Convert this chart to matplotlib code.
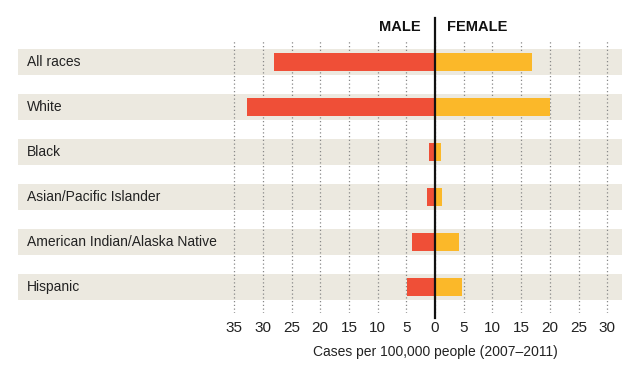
import matplotlib
matplotlib.use("Agg")
import matplotlib.pyplot as plt
from matplotlib.lines import Line2D
import matplotlib.transforms as mtransforms

categories = ["All races", "White", "Black", "Asian/Pacific Islander",
              "American Indian/Alaska Native", "Hispanic"]
male = [28.0, 32.7, 1.0, 1.4, 4.0, 4.8]
female = [16.9, 20.0, 1.0, 1.2, 4.2, 4.7]
tick_values = [-35, -30, -25, -20, -15, -10, -5, 0, 5, 10, 15, 20, 25, 30]
tick_labels = [str(abs(v)) for v in tick_values]

W, H = 640, 387
fig = plt.figure(figsize=(W / 100, H / 100), dpi=100)
plt.rcParams["font.family"] = ["Liberation Sans", "DejaVu Sans"]

px0, px1 = 18, 622
scale = 5.74
center = 435
xmin = (px0 - center) / scale
xmax = (px1 - center) / scale
ytop_px, ybot_px = 40, 313
row0, step = 62, 45
ax = fig.add_axes([px0 / W, 1 - ybot_px / H, (px1 - px0) / W, (ybot_px - ytop_px) / H])
ax.set_xlim(xmin, xmax)
ax.set_ylim((ybot_px - row0) / step, (ytop_px - row0) / step)

red = "#EF4F37"
yellow = "#FBB829"
band = "#ECE9E0"

ys = list(range(len(categories)))
ax.barh(ys, [xmax - xmin] * len(ys), left=xmin, height=0.58, color=band, zorder=0)
for v in tick_values:
    ax.axvline(v, color="#888888", lw=0.9, ls=(0, (1, 2)), zorder=1)
ax.barh(ys, [-m for m in male], height=0.38, color=red, zorder=2)
ax.barh(ys, female, height=0.38, color=yellow, zorder=2)

tr = mtransforms.blended_transform_factory(fig.transFigure, ax.transData)
for y, c in zip(ys, categories):
    ax.text(27 / W, y, c, transform=tr, ha="left", va="center",
            fontsize=10, color="#222222")

ax.set_xticks(tick_values)
ax.set_xticklabels(tick_labels, fontsize=11, color="#222222")
ax.tick_params(axis="x", length=0, pad=6)
ax.set_yticks([])
for s in ax.spines.values():
    s.set_visible(False)

fig.text(center / W, 1 - 352 / H, "Cases per 100,000 people (2007–2011)",
         ha="center", va="center", fontsize=10, color="#222222")
fig.text(421 / W, 1 - 27 / H, "MALE", ha="right", va="center", fontsize=10.5,
         fontweight="bold", color="#111111")
fig.text(447 / W, 1 - 27 / H, "FEMALE", ha="left", va="center", fontsize=10.5,
         fontweight="bold", color="#111111")

fig.add_artist(Line2D([center / W, center / W], [1 - 18 / H, 1 - 318 / H],
                      transform=fig.transFigure, color="#111111", lw=1.6, zorder=5))

fig.savefig("out.png", dpi=100)
